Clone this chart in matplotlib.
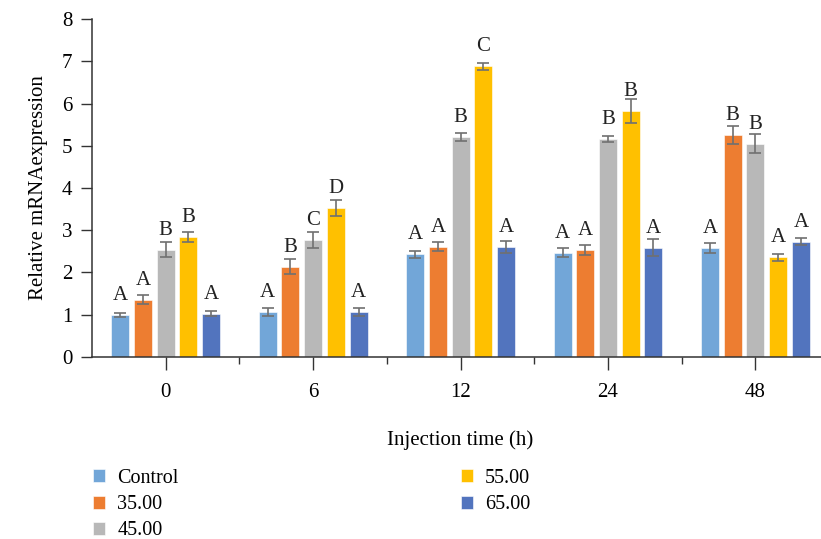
import matplotlib.pyplot as plt
import numpy as np

plt.rcParams["font.family"] = ["Liberation Serif", "DejaVu Serif"]
plt.rcParams["font.size"] = 15

times = ["0", "6", "12", "24", "48"]
groups = ["Control", "35.00", "45.00", "55.00", "65.00"]
colors = ["#72A6D8", "#ED7D31", "#B8B8B8", "#FFC000", "#5274BE"]

values = {
    "Control": [0.99, 1.06, 2.43, 2.47, 2.58],
    "35.00": [1.36, 2.14, 2.61, 2.53, 5.25],
    "45.00": [2.54, 2.78, 5.21, 5.16, 5.05],
    "55.00": [2.84, 3.53, 6.88, 5.82, 2.36],
    "65.00": [1.02, 1.06, 2.60, 2.59, 2.73],
}
errors = {
    "Control": [0.05, 0.10, 0.09, 0.11, 0.11],
    "35.00": [0.10, 0.17, 0.10, 0.12, 0.22],
    "45.00": [0.18, 0.19, 0.10, 0.08, 0.23],
    "55.00": [0.11, 0.19, 0.09, 0.28, 0.08],
    "65.00": [0.06, 0.10, 0.14, 0.20, 0.09],
}
letters = {
    "Control": ["A", "A", "A", "A", "A"],
    "35.00": ["A", "B", "A", "A", "B"],
    "45.00": ["B", "C", "B", "B", "B"],
    "55.00": ["B", "D", "C", "B", "A"],
    "65.00": ["A", "A", "A", "A", "A"],
}


def main():
    fig = plt.figure(figsize=(8.21, 5.39), dpi=100)
    ax = fig.add_axes([0.112, 0.3377, 0.898, 0.627])

    x = np.arange(len(times))
    pitch = 0.154
    width = 0.122
    for i, g in enumerate(groups):
        pos = x + (i - 2) * pitch
        ax.bar(pos, values[g], width, color=colors[i], edgecolor="white",
               linewidth=0.4, label=g, zorder=2)
        ax.errorbar(pos, values[g], yerr=errors[g], fmt="none", ecolor="#707070",
                    elinewidth=1.2, capsize=4.5, capthick=1.2, zorder=3)
        for p, v, lt in zip(pos, values[g], letters[g]):
            ax.text(p, v + 0.355, lt, ha="center", va="baseline", color="#222222")

    ax.set_xlim(-0.5, 4.5)
    ax.set_ylim(0, 8)
    ax.set_yticks(range(0, 9))
    ax.set_xticks(x)
    ax.set_xticklabels(times)
    ax.set_xticks(np.arange(0.5, 4.5, 1), minor=True)
    ax.tick_params(axis="x", which="major", length=9, width=1, color="#333333", pad=10)
    ax.tick_params(axis="x", which="minor", length=5, width=1, color="#333333")
    ax.tick_params(axis="y", length=8, width=1, color="#333333", pad=6)
    for s in ["top", "right"]:
        ax.spines[s].set_visible(False)
    for s in ["left", "bottom"]:
        ax.spines[s].set_color("#333333")
        ax.spines[s].set_linewidth(1.1)

    ax.set_ylabel("Relative mRNAexpression", labelpad=10)
    ax.set_xlabel("Injection time (h)", labelpad=20)

    fig.legend(loc="upper left", bbox_to_anchor=(0.113, 0.130), bbox_transform=fig.transFigure,
               ncol=2, frameon=False, fontsize=14.5, handlelength=0.62, handleheight=0.62,
               handletextpad=0.6, labelspacing=0.36, columnspacing=14.0,
               borderaxespad=0, borderpad=0)

    fig.savefig("out.png", dpi=100)


if __name__ == "__main__":
    main()
